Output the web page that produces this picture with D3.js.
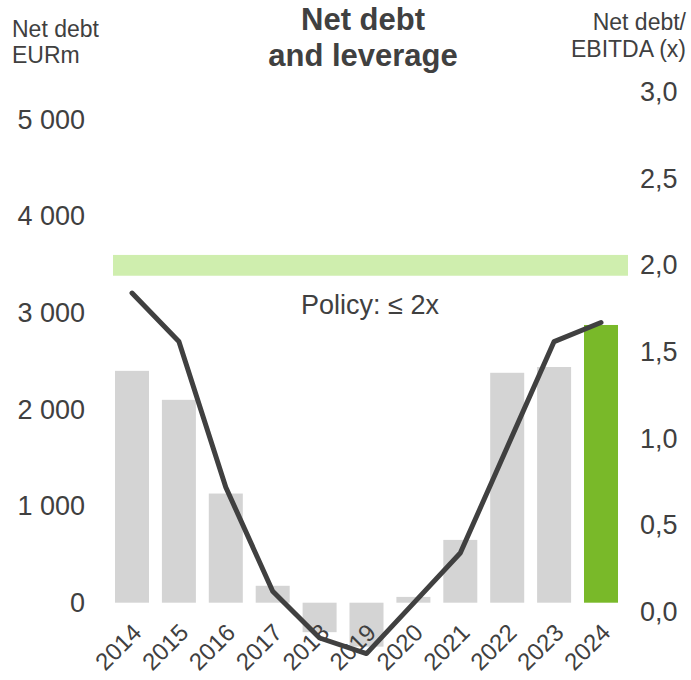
<!DOCTYPE html>
<html>
<head>
<meta charset="utf-8">
<script src="https://cdn.jsdelivr.net/npm/d3@7"></script>
<style>
  html, body { margin: 0; padding: 0; background: #fff; }
  svg { display: block; font-family: "Liberation Sans", Arial, sans-serif; }
</style>
</head>
<body>
<div id="chart"></div>
<script>
// data
const years = ["2014","2015","2016","2017","2018","2019","2020","2021","2022","2023","2024"];
const netDebt = [2400, 2100, 1130, 175, -305, -455, 60, 650, 2380, 2440, 2875];
const leverage = [1.84, 1.56, 0.72, 0.12, -0.15, -0.24, 0.05, 0.34, 0.95, 1.56, 1.67];
const leftTicks = [0, 1000, 2000, 3000, 4000, 5000];
const rightTicks = [0, 0.5, 1, 1.5, 2, 2.5, 3];
const policyBand = [1.94, 2.06];

const W = 691, H = 680;
const textCol = "#404040";
const font = "Liberation Sans, Arial, sans-serif";

const svg = d3.select("#chart").append("svg")
    .attr("width", W)
    .attr("height", H);

const x = d3.scaleBand()
    .domain(years)
    .range([108.5, 624.5])
    .paddingInner(0.275)
    .paddingOuter(0.1385);

const yL = d3.scaleLinear().domain([0, 5000]).range([602.7, 119.7]);
const yR = d3.scaleLinear().domain([0, 3]).range([612, 92]);

// policy band
svg.append("rect")
    .attr("x", 113)
    .attr("width", 628 - 113)
    .attr("y", yR(policyBand[1]))
    .attr("height", yR(policyBand[0]) - yR(policyBand[1]))
    .attr("fill", "#cfeeae");

svg.append("text")
    .attr("x", 370)
    .attr("y", 314)
    .attr("text-anchor", "middle")
    .attr("font-size", 27)
    .attr("fill", textCol)
    .text("Policy: \u2264 2x");

// bars
svg.append("g").selectAll("rect")
    .data(years)
    .join("rect")
    .attr("x", d => x(d))
    .attr("width", x.bandwidth())
    .attr("y", (d, i) => yL(Math.max(0, netDebt[i])))
    .attr("height", (d, i) => Math.abs(yL(netDebt[i]) - yL(0)))
    .attr("fill", (d, i) => i === years.length - 1 ? "#79b929" : "#d4d4d4");

// leverage line
const line = d3.line()
    .x((d, i) => x(years[i]) + x.bandwidth() / 2)
    .y(d => yR(d));

svg.append("path")
    .datum(leverage)
    .attr("d", line)
    .attr("fill", "none")
    .attr("stroke", "#404040")
    .attr("stroke-width", 5)
    .attr("stroke-linejoin", "round")
    .attr("stroke-linecap", "round");

// left axis
const axL = svg.append("g")
    .attr("transform", "translate(85,0)")
    .call(d3.axisLeft(yL).tickValues(leftTicks).tickSize(0).tickPadding(0)
        .tickFormat(d => d3.format(",")(d).replace(/,/g, " ")));
axL.select(".domain").remove();
axL.selectAll("text")
    .attr("font-size", 27)
    .attr("fill", textCol)
    .attr("font-family", font);

// right axis
const axR = svg.append("g")
    .attr("transform", "translate(640,0)")
    .call(d3.axisRight(yR).tickValues(rightTicks).tickSize(0).tickPadding(0)
        .tickFormat(d => d3.format(".1f")(d).replace(".", ",")));
axR.select(".domain").remove();
axR.selectAll("text")
    .attr("font-size", 27)
    .attr("fill", textCol)
    .attr("font-family", font);

// x labels
svg.append("g").selectAll("text")
    .data(years)
    .join("text")
    .attr("transform", d => `translate(${x(d) + x.bandwidth() / 2 + 11},${634}) rotate(-45)`)
    .attr("text-anchor", "end")
    .attr("font-size", 24)
    .attr("fill", textCol)
    .text(d => d);

// titles
const title = svg.append("text")
    .attr("text-anchor", "middle")
    .attr("font-size", 31)
    .attr("font-weight", "bold")
    .attr("fill", textCol);
title.append("tspan").attr("x", 363).attr("y", 30).text("Net debt");
title.append("tspan").attr("x", 363).attr("y", 66).text("and leverage");

const lt = svg.append("text")
    .attr("font-size", 23)
    .attr("fill", textCol);
lt.append("tspan").attr("x", 12).attr("y", 37).text("Net debt");
lt.append("tspan").attr("x", 12).attr("y", 63).text("EURm");

const rt = svg.append("text")
    .attr("font-size", 23)
    .attr("text-anchor", "end")
    .attr("fill", textCol);
rt.append("tspan").attr("x", 686).attr("y", 30).text("Net debt/");
rt.append("tspan").attr("x", 686).attr("y", 57).text("EBITDA (x)");
</script>
</body>
</html>
